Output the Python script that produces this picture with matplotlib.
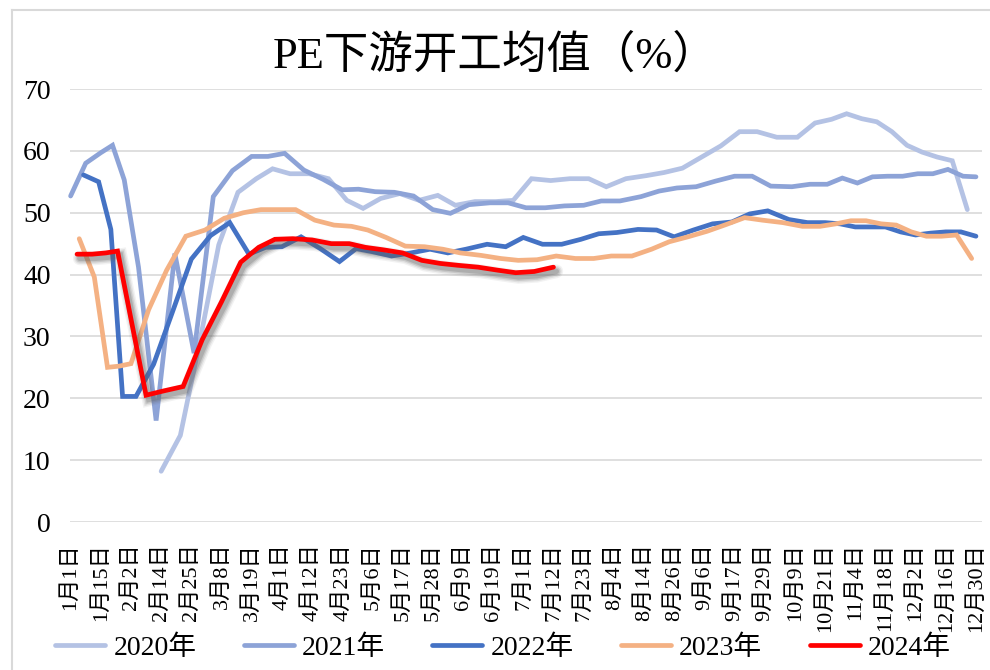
import numpy as np
import matplotlib
matplotlib.use('Agg')
import matplotlib.pyplot as plt
import matplotlib.patheffects as pe
from matplotlib.lines import Line2D

plt.rcParams['font.family'] = ['Liberation Serif', 'Noto Sans CJK SC']

tick_labels = ['1月1日', '1月15日', '2月2日', '2月14日', '2月25日', '3月8日', '3月19日',
               '4月1日', '4月12日', '4月23日', '5月6日', '5月17日', '5月28日', '6月9日',
               '6月19日', '7月1日', '7月12日', '7月23日', '8月4日', '8月14日', '8月26日',
               '9月6日', '9月17日', '9月29日', '10月9日', '10月21日', '11月4日', '11月18日',
               '12月2日', '12月16日', '12月30日']

# weekly readings, first date of each series
start_2020 = '2月14日'
pe_2020 = [8.2, 14.0, 29.0, 44.8, 53.3, 55.5, 57.1, 56.3, 56.3, 55.5, 52.0, 50.7, 52.3,
           53.1, 52.0, 52.8, 51.2, 51.8, 51.8, 52.0, 55.5, 55.2, 55.5, 55.5, 54.2, 55.5,
           56.0, 56.5, 57.2, 59.0, 60.8, 63.1, 63.1, 62.2, 62.2, 64.5, 65.1, 66.0, 65.2,
           64.7, 63.1, 60.9, 59.8, 59.0, 58.4, 50.5]

start_2021 = '1月1日'
pe_2021 = [52.7, 58.0, 59.7, 60.9, 55.3, 41.2, 16.4, 43.4, 27.3, 52.6, 56.8, 59.1, 59.1,
           59.6, 56.9, 55.4, 53.7, 53.8, 53.4, 53.3, 52.7, 50.5, 49.9, 51.3, 51.6, 51.6,
           50.8, 50.8, 51.1, 51.2, 51.9, 51.9, 52.6, 53.5, 54.0, 54.2, 55.1, 55.9, 55.9,
           54.3, 54.2, 54.6, 54.6, 55.6, 54.8, 55.8, 55.9, 55.9, 56.3, 56.3, 57.0, 55.9,
           55.8]

start_2022 = '1月7日'
pe_2022 = [56.1, 55.0, 47.3, 20.3, 20.3, 25.5, 33.8, 42.5, 46.3, 48.4, 43.3, 44.4, 44.5,
           46.1, 44.2, 42.1, 44.2, 43.7, 43.0, 43.5, 44.1, 43.5, 44.1, 44.9, 44.5, 46.0,
           44.9, 44.9, 45.7, 46.6, 46.8, 47.3, 47.2, 46.1, 47.2, 48.2, 48.5, 49.8, 50.3,
           48.9, 48.4, 48.4, 48.2, 47.7, 47.7, 47.7, 46.9, 46.4, 46.7, 46.9, 46.9, 46.2]

start_2023 = '1月5日'
pe_2023 = [45.8, 39.6, 25.0, 25.2, 25.6, 34.3, 40.7, 46.2, 47.2, 49.1, 50.0, 50.5, 50.5,
           50.5, 48.8, 48.0, 47.8, 47.2, 46.0, 44.6, 44.5, 44.1, 43.5, 43.1, 42.6, 42.3,
           42.4, 43.0, 42.6, 42.6, 43.0, 43.0, 44.1, 45.3, 46.1, 47.0, 48.1, 49.2, 48.8,
           48.4, 47.8, 47.8, 48.2, 48.7, 48.7, 48.2, 48.0, 46.9, 46.2, 46.2, 46.4, 42.6]

start_2024 = '1月4日'
pe_2024 = [43.3, 43.3, 43.5, 43.8, None, 20.5, 21.2, 21.9, 29.5, 35.6, 42.0, 44.4, 45.7,
           45.8, 45.6, 45.0, 45.0, 44.4, 44.0, 43.5, 42.3, 41.8, 41.5, 41.2, 40.7, 40.3,
           40.5, 41.2]

years = ['2020年', '2021年', '2022年', '2023年', '2024年']
starts = [start_2020, start_2021, start_2022, start_2023, start_2024]
values = [pe_2020, pe_2021, pe_2022, pe_2023, pe_2024]
colors = ['#B4C2E4', '#8DA3D7', '#4472C4', '#F4B183', '#FF0000']

month_start = np.cumsum([0, 31, 28, 31, 30, 31, 30, 31, 31, 30, 31, 30])


def day_of_year(s):
    m, d = s.rstrip('日').split('月')
    return month_start[int(m) - 1] + int(d) - 1


# category axis: dates between two labels are spread evenly
label_days = [day_of_year(s) for s in tick_labels]
label_pos = np.arange(len(tick_labels))

fig = plt.figure(figsize=(9.9, 6.7), dpi=100)
ax = fig.add_axes([70 / 990, 1 - 522 / 670, 912 / 990, 433 / 670])

for start, vals, col in zip(starts, values, colors):
    days = day_of_year(start) + 7 * np.arange(len(vals))
    keep = [v is not None for v in vals]
    x = np.interp(days[keep], label_days, label_pos)
    y = [v for v in vals if v is not None]
    effects = None
    if col == '#FF0000':
        # soft grey drop shadow under the 2024 line
        effects = [pe.SimpleLineShadow(offset=(2, -3), shadow_color='#606060', alpha=a, linewidth=lw)
                   for lw, a in [(10, 0.08), (8, 0.12), (6, 0.18), (4, 0.25)]] + [pe.Normal()]
    ax.plot(x, y, color=col, lw=3.4, solid_joinstyle='miter', solid_capstyle='round',
            path_effects=effects, clip_on=False)

ax.set_xlim(-0.02, 30.2)
ax.set_ylim(0, 70)
ax.set_yticks(range(0, 71, 10))
ax.set_xticks(label_pos)
ax.set_xticklabels(tick_labels, rotation=90, fontsize=16)
ax.tick_params(axis='x', length=0, pad=15)
ax.tick_params(axis='y', length=0, pad=14, labelsize=20)
ax.grid(axis='y', color='#D9D9D9', lw=1.2)
ax.set_axisbelow(True)
for s in ax.spines.values():
    s.set_visible(False)

fig.text(0.5, 1 - 56 / 670, 'PE下游开工均值（%）', fontsize=32, ha='center', va='center')

# chart area frame
fig.add_artist(Line2D([12 / 990, 12 / 990], [0, 1 - 10 / 670], color='#D9D9D9', lw=1.5))
fig.add_artist(Line2D([12 / 990, 1], [1 - 10 / 670, 1 - 10 / 670], color='#D9D9D9', lw=1.5))

handles = [Line2D([], [], color=c, lw=3.4, solid_capstyle='round') for c in colors]
fig.legend(handles, years, loc='center', bbox_to_anchor=(0.508, 1 - 648 / 670), ncol=5,
           frameon=False, fontsize=20, handlelength=1.8, handletextpad=0.3,
           columnspacing=1.7)

fig.savefig('out.png', dpi=100)
